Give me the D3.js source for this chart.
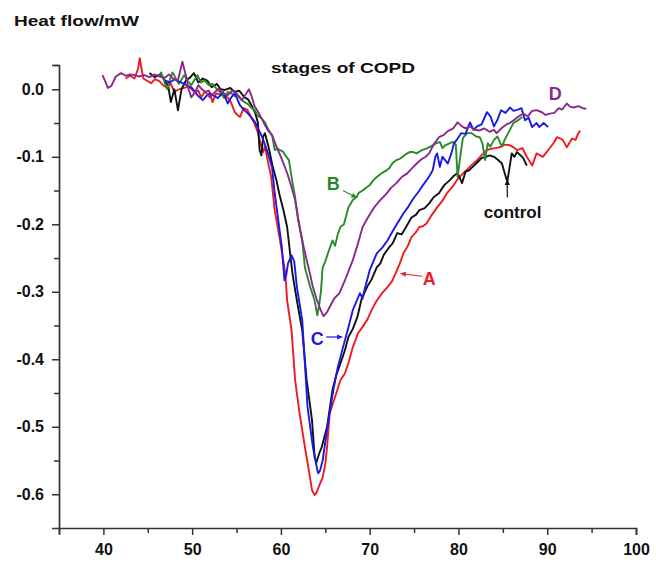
<!DOCTYPE html>
<html><head><meta charset="utf-8">
<script src="https://cdn.jsdelivr.net/npm/d3@7"></script>
<style>body{margin:0;background:#fff}svg{display:block}</style>
</head><body>
<svg id="chart" width="656" height="564"></svg>
<script>
// ---- data (temperature °C, heat flow mW) ----
const xMajorTicks = [40, 50, 60, 70, 80, 90, 100];
const xMinorTicks = [35, 45, 55, 65, 75, 85, 95];
const yMajorTicks = [0, -0.1, -0.2, -0.3, -0.4, -0.5, -0.6];
const yMinorTicks = [-0.05, -0.15, -0.25, -0.35, -0.45, -0.55];

const controlData = [[45.2,0.024],[45.8,0.018],[46.4,0.022],[47.0,0.012],[47.3,0.005],[47.6,-0.019],[48.0,0.0],[48.4,-0.031],[48.8,0.0],[49.3,0.013],[49.8,0.018],[50.2,0.024],[50.7,0.01],[51.2,0.016],[51.7,0.013],[52.2,0.003],[52.8,0.008],[53.2,0.0],[53.7,-0.001],[54.3,0.002],[54.8,-0.004],[55.3,-0.002],[55.9,-0.012],[56.3,-0.015],[56.7,-0.024],[57.1,-0.035],[57.4,-0.049],[57.6,-0.09],[57.8,-0.098],[58.0,-0.07],[58.2,-0.065],[58.6,-0.085],[59.1,-0.116],[59.5,-0.135],[59.8,-0.154],[60.3,-0.18],[60.7,-0.204],[61.0,-0.239],[61.3,-0.273],[61.8,-0.313],[62.4,-0.357],[62.9,-0.431],[63.2,-0.46],[63.5,-0.49],[63.8,-0.545],[64.0,-0.553],[64.3,-0.54],[64.6,-0.53],[65.2,-0.5],[65.8,-0.446],[66.2,-0.425],[66.7,-0.406],[67.2,-0.387],[67.6,-0.367],[68.1,-0.355],[68.6,-0.338],[69.1,-0.31],[69.7,-0.293],[70.2,-0.282],[70.8,-0.264],[71.2,-0.258],[71.6,-0.245],[72.2,-0.234],[72.6,-0.228],[73.1,-0.213],[73.6,-0.215],[74.1,-0.204],[74.7,-0.19],[75.2,-0.186],[75.6,-0.179],[76.2,-0.176],[76.7,-0.169],[77.2,-0.16],[77.8,-0.154],[78.4,-0.142],[79.0,-0.135],[79.5,-0.128],[79.9,-0.124],[80.4,-0.139],[80.8,-0.122],[81.2,-0.12],[81.6,-0.115],[82.0,-0.11],[82.6,-0.102],[83.1,-0.1],[83.5,-0.098],[84.0,-0.1],[84.4,-0.104],[84.9,-0.11],[85.2,-0.124],[85.5,-0.137],[85.8,-0.112],[86.0,-0.095],[86.3,-0.1],[86.6,-0.093],[87.0,-0.098],[87.3,-0.102],[87.7,-0.113]];

const stageA = [[42.5,0.016],[43.0,0.02],[43.5,0.016],[43.9,0.03],[44.1,0.046],[44.3,0.03],[44.5,0.016],[45.0,0.012],[45.4,0.009],[45.8,0.015],[46.3,0.012],[46.8,0.005],[47.1,0.003],[47.6,0.008],[48.0,-0.004],[48.5,0.0],[49.1,0.002],[49.6,0.004],[50.3,-0.004],[50.7,-0.002],[51.0,-0.012],[51.4,-0.004],[51.9,-0.002],[52.3,-0.019],[52.7,-0.006],[53.2,-0.008],[53.6,-0.01],[54.0,-0.012],[54.4,-0.02],[54.8,-0.034],[55.1,-0.038],[55.4,-0.041],[55.8,-0.028],[56.2,-0.03],[56.7,-0.043],[57.0,-0.05],[57.4,-0.064],[57.7,-0.08],[58.0,-0.093],[58.2,-0.085],[58.5,-0.105],[58.9,-0.13],[59.3,-0.179],[59.9,-0.224],[60.5,-0.273],[60.7,-0.313],[61.2,-0.357],[61.6,-0.431],[62.1,-0.48],[62.7,-0.53],[63.2,-0.569],[63.5,-0.594],[63.8,-0.601],[64.0,-0.598],[64.2,-0.591],[64.7,-0.575],[65.0,-0.555],[65.2,-0.53],[65.5,-0.48],[66.1,-0.456],[66.7,-0.431],[67.2,-0.421],[67.6,-0.406],[68.1,-0.382],[68.7,-0.361],[69.2,-0.352],[69.7,-0.342],[70.3,-0.325],[70.8,-0.313],[71.4,-0.302],[72.0,-0.293],[72.5,-0.285],[72.9,-0.273],[73.4,-0.258],[73.8,-0.243],[74.3,-0.232],[74.7,-0.219],[75.2,-0.212],[75.6,-0.204],[76.0,-0.203],[76.4,-0.199],[77.0,-0.186],[77.6,-0.175],[78.2,-0.165],[78.7,-0.154],[79.3,-0.145],[79.8,-0.135],[80.4,-0.126],[80.9,-0.12],[81.5,-0.112],[82.1,-0.105],[82.6,-0.098],[83.2,-0.09],[83.8,-0.088],[84.6,-0.086],[85.2,-0.082],[85.8,-0.083],[86.2,-0.086],[86.6,-0.09],[87.2,-0.087],[87.7,-0.1],[88.3,-0.113],[88.8,-0.095],[89.2,-0.098],[89.5,-0.1],[90.0,-0.092],[90.3,-0.087],[90.7,-0.08],[91.1,-0.071],[91.5,-0.073],[91.8,-0.076],[92.2,-0.086],[92.8,-0.073],[93.2,-0.075],[93.4,-0.068],[93.7,-0.061]];

const stageB = [[46.3,0.02],[46.5,0.025],[46.9,0.01],[47.2,0.0],[47.5,0.015],[47.8,0.025],[48.2,0.015],[48.5,0.008],[49.1,0.021],[49.5,0.012],[49.9,0.006],[50.3,0.015],[50.6,0.021],[51.0,0.01],[51.4,0.013],[51.9,0.006],[52.3,0.008],[52.8,0.0],[53.2,-0.005],[53.6,-0.013],[54.0,-0.004],[54.4,-0.006],[54.8,-0.01],[55.1,-0.009],[55.5,-0.015],[55.9,-0.019],[56.3,-0.022],[56.7,-0.028],[57.0,-0.03],[57.4,-0.039],[57.8,-0.043],[58.2,-0.049],[58.6,-0.06],[59.0,-0.068],[59.3,-0.09],[59.6,-0.088],[59.9,-0.09],[60.2,-0.092],[60.5,-0.098],[60.9,-0.105],[61.2,-0.13],[61.6,-0.16],[61.9,-0.19],[62.4,-0.224],[62.7,-0.264],[63.3,-0.293],[63.8,-0.313],[64.1,-0.335],[64.3,-0.32],[64.5,-0.3],[64.7,-0.264],[65.0,-0.255],[65.3,-0.243],[65.8,-0.224],[66.1,-0.232],[66.4,-0.215],[66.7,-0.204],[67.1,-0.2],[67.3,-0.19],[67.6,-0.175],[68.1,-0.164],[68.5,-0.16],[68.8,-0.153],[69.2,-0.15],[69.6,-0.146],[70.0,-0.142],[70.4,-0.135],[70.8,-0.13],[71.1,-0.127],[71.5,-0.123],[71.8,-0.121],[72.2,-0.117],[72.6,-0.109],[73.0,-0.105],[73.4,-0.103],[73.7,-0.1],[74.1,-0.096],[74.5,-0.093],[74.9,-0.093],[75.3,-0.095],[75.9,-0.09],[76.4,-0.088],[77.1,-0.083],[77.5,-0.08],[77.9,-0.078],[78.2,-0.087],[78.5,-0.083],[79.0,-0.08],[79.4,-0.078],[79.7,-0.082],[79.9,-0.13],[80.2,-0.1],[80.5,-0.072],[81.0,-0.065],[81.5,-0.065],[82.0,-0.07],[82.4,-0.071],[82.7,-0.08],[83.0,-0.105],[83.3,-0.08],[83.6,-0.085],[84.0,-0.075],[84.4,-0.07],[84.9,-0.085],[85.2,-0.075],[85.6,-0.065],[86.0,-0.055],[86.2,-0.05],[86.7,-0.046],[87.2,-0.041]];

const stageC = [[47.0,0.013],[47.5,0.01],[48.0,0.015],[48.4,0.012],[48.8,0.01],[49.4,0.006],[49.9,0.003],[50.3,-0.003],[50.6,-0.009],[51.2,-0.016],[51.6,-0.01],[52.0,-0.006],[52.5,-0.01],[52.9,-0.013],[53.5,-0.004],[54.0,-0.021],[54.4,-0.012],[54.8,-0.006],[55.1,-0.015],[55.4,-0.024],[55.8,-0.03],[56.3,-0.036],[56.7,-0.042],[57.1,-0.049],[57.5,-0.06],[57.9,-0.071],[58.5,-0.093],[59.0,-0.116],[59.3,-0.154],[59.7,-0.194],[60.1,-0.234],[60.4,-0.283],[60.6,-0.275],[60.8,-0.258],[61.2,-0.246],[61.5,-0.255],[61.8,-0.293],[62.4,-0.342],[62.7,-0.406],[63.0,-0.471],[63.6,-0.53],[64.1,-0.564],[64.2,-0.569],[64.4,-0.565],[64.7,-0.55],[65.3,-0.495],[65.9,-0.446],[66.4,-0.412],[67.0,-0.382],[67.6,-0.353],[68.1,-0.327],[68.9,-0.302],[69.2,-0.31],[69.4,-0.298],[70.0,-0.268],[70.8,-0.243],[71.4,-0.235],[72.0,-0.224],[72.6,-0.21],[73.1,-0.199],[73.8,-0.184],[74.3,-0.175],[74.8,-0.164],[75.2,-0.157],[75.6,-0.15],[76.0,-0.142],[76.4,-0.135],[76.8,-0.127],[77.1,-0.12],[77.4,-0.1],[77.6,-0.095],[77.9,-0.115],[78.2,-0.1],[78.5,-0.105],[78.8,-0.11],[79.2,-0.095],[79.5,-0.08],[79.8,-0.075],[80.3,-0.065],[80.8,-0.066],[81.3,-0.049],[81.7,-0.06],[82.1,-0.055],[82.6,-0.052],[83.2,-0.034],[83.6,-0.04],[84.0,-0.055],[84.4,-0.045],[84.8,-0.031],[85.3,-0.035],[85.8,-0.027],[86.2,-0.032],[86.7,-0.03],[87.1,-0.028],[87.5,-0.046],[87.9,-0.042],[88.3,-0.056],[88.8,-0.05],[89.1,-0.056],[89.6,-0.05],[90.1,-0.056]];

const stageD = [[39.9,0.021],[40.2,0.012],[40.5,0.002],[40.9,0.005],[41.4,0.019],[42.0,0.024],[42.5,0.02],[43.0,0.022],[43.5,0.021],[44.0,0.019],[44.6,0.021],[45.2,0.018],[45.7,0.022],[46.3,0.019],[46.9,0.017],[47.4,0.022],[47.9,0.015],[48.4,0.013],[48.9,0.041],[49.3,0.02],[49.6,0.0],[49.9,-0.012],[50.3,-0.005],[50.7,0.006],[51.1,0.0],[51.5,-0.004],[52.0,-0.012],[52.5,-0.005],[53.0,0.001],[53.5,-0.006],[54.0,-0.009],[54.5,-0.002],[55.0,-0.006],[55.6,-0.016],[56.0,-0.008],[56.4,0.0],[56.7,-0.01],[57.0,-0.024],[57.5,-0.035],[58.0,-0.048],[58.5,-0.06],[59.0,-0.068],[59.5,-0.085],[60.0,-0.1],[60.7,-0.124],[61.2,-0.145],[61.6,-0.164],[62.1,-0.204],[62.5,-0.23],[62.9,-0.253],[63.3,-0.275],[63.6,-0.293],[64.0,-0.31],[64.5,-0.328],[64.8,-0.336],[65.2,-0.33],[65.6,-0.32],[66.0,-0.31],[66.6,-0.302],[67.3,-0.28],[68.1,-0.253],[68.6,-0.232],[69.2,-0.204],[69.8,-0.19],[70.5,-0.175],[71.2,-0.164],[71.8,-0.156],[72.4,-0.146],[73.0,-0.139],[73.6,-0.13],[74.2,-0.125],[74.7,-0.118],[75.3,-0.11],[75.8,-0.104],[76.3,-0.1],[76.7,-0.095],[77.2,-0.082],[77.8,-0.071],[78.3,-0.068],[78.8,-0.062],[79.4,-0.058],[79.9,-0.049],[80.4,-0.055],[80.8,-0.058],[81.3,-0.055],[81.8,-0.06],[82.4,-0.061],[82.9,-0.058],[83.5,-0.063],[84.0,-0.06],[84.3,-0.065],[84.9,-0.057],[85.4,-0.052],[85.8,-0.05],[86.3,-0.045],[86.8,-0.04],[87.3,-0.036],[87.8,-0.04],[88.3,-0.032],[88.8,-0.031],[89.4,-0.034],[89.8,-0.038],[90.3,-0.036],[90.8,-0.035],[91.3,-0.028],[91.7,-0.03],[92.2,-0.021],[92.6,-0.026],[93.0,-0.027],[93.5,-0.025],[94.0,-0.028],[94.4,-0.029]];

const seriesNames = ["A", "control", "B", "C", "D"];
const seriesColors = ["#ec1c24", "#111111", "#2a8a2a", "#1a1ae6", "#8a2a8c"];
const seriesData = [stageA, controlData, stageB, stageC, stageD];

const annotations = [
  {text: "D", color: "#8a2a8c", t: 90.9, v: -0.006},
  {text: "B", color: "#2a8a2a", t: 65.9, v: -0.139, arrow: [67.0, -0.150, 68.6, -0.161]},
  {text: "control", color: "#111111", t: 86.1, v: -0.182, arrow: [85.5, -0.160, 85.5, -0.133]},
  {text: "A", color: "#ec1c24", t: 76.7, v: -0.280, arrow: [75.9, -0.277, 73.4, -0.273]},
  {text: "C", color: "#1a1ae6", t: 64.1, v: -0.369, arrow: [65.1, -0.367, 67.0, -0.367]}
];

// ---- drawing ----
const svg = d3.select("#chart");
const font = "'Liberation Sans', Arial, Helvetica, sans-serif";
const x = d3.scaleLinear().domain([35, 100]).range([59, 636]);
const y = d3.scaleLinear().domain([-0.65, 0.036]).range([528, 65]);

svg.append("rect").attr("width", 656).attr("height", 564).attr("fill", "#fff");

const line = d3.line().x(d => x(d[0])).y(d => y(d[1])).curve(d3.curveLinear);
svg.append("g").selectAll("path").data(seriesData).join("path")
  .attr("d", line).attr("fill", "none")
  .attr("stroke", (d, i) => seriesColors[i])
  .attr("stroke-width", 1.9).attr("stroke-linejoin", "round");

const axisColor = "#333";
const gx = svg.append("g").attr("transform", `translate(0,${y(-0.65)})`);
gx.call(d3.axisBottom(x).tickValues(xMajorTicks).tickSize(7).tickPadding(9).tickFormat(d3.format("d")));
gx.append("g").call(d3.axisBottom(x).tickValues(xMinorTicks).tickSize(5).tickFormat(""))
  .select(".domain").remove();

const gy = svg.append("g").attr("transform", `translate(${x(35)},0)`);
gy.call(d3.axisLeft(y).tickValues(yMajorTicks).tickSize(7).tickPadding(8).tickFormat(d => d.toFixed(1)));
gy.append("g").call(d3.axisLeft(y).tickValues(yMinorTicks.concat([0.036])).tickSize(5).tickFormat(""))
  .select(".domain").remove();

svg.selectAll(".domain").attr("stroke", axisColor).attr("stroke-width", 1.7);
svg.selectAll(".tick line").attr("stroke", axisColor).attr("stroke-width", 1.5);
svg.selectAll(".tick text").attr("fill", "#111").attr("font-family", font)
  .attr("font-size", 16).attr("font-weight", "bold");

svg.append("text").attr("x", 14).attr("y", 25.5).text("Heat flow/mW")
  .attr("font-family", font).attr("font-size", 15).attr("font-weight", "bold").attr("fill", "#111")
  .attr("textLength", 125).attr("lengthAdjust", "spacingAndGlyphs");
svg.append("text").attr("x", 271).attr("y", 73).text("stages of COPD")
  .attr("font-family", font).attr("font-size", 15).attr("font-weight", "bold").attr("fill", "#111")
  .attr("textLength", 144).attr("lengthAdjust", "spacingAndGlyphs");

annotations.forEach(a => {
  svg.append("text").attr("x", x(a.t)).attr("y", y(a.v)).attr("dy", "0.36em")
    .attr("text-anchor", "middle").text(a.text)
    .attr("font-family", font).attr("font-size", a.text.length > 1 ? 17 : 18)
    .attr("font-weight", "bold").attr("fill", a.color);
  if (a.arrow) {
    const [t1, v1, t2, v2] = a.arrow;
    const X1 = x(t1), Y1 = y(v1), X2 = x(t2), Y2 = y(v2);
    const ang = Math.atan2(Y2 - Y1, X2 - X1);
    const L = 6, W = 2.6;
    const bx = X2 - L * Math.cos(ang), by = Y2 - L * Math.sin(ang);
    svg.append("line").attr("x1", X1).attr("y1", Y1).attr("x2", bx).attr("y2", by)
      .attr("stroke", a.color).attr("stroke-width", 1.2);
    const px = -Math.sin(ang) * W, py = Math.cos(ang) * W;
    svg.append("path").attr("d", `M${X2},${Y2}L${bx + px},${by + py}L${bx - px},${by - py}Z`)
      .attr("fill", a.color);
  }
});
</script>
</body></html>
